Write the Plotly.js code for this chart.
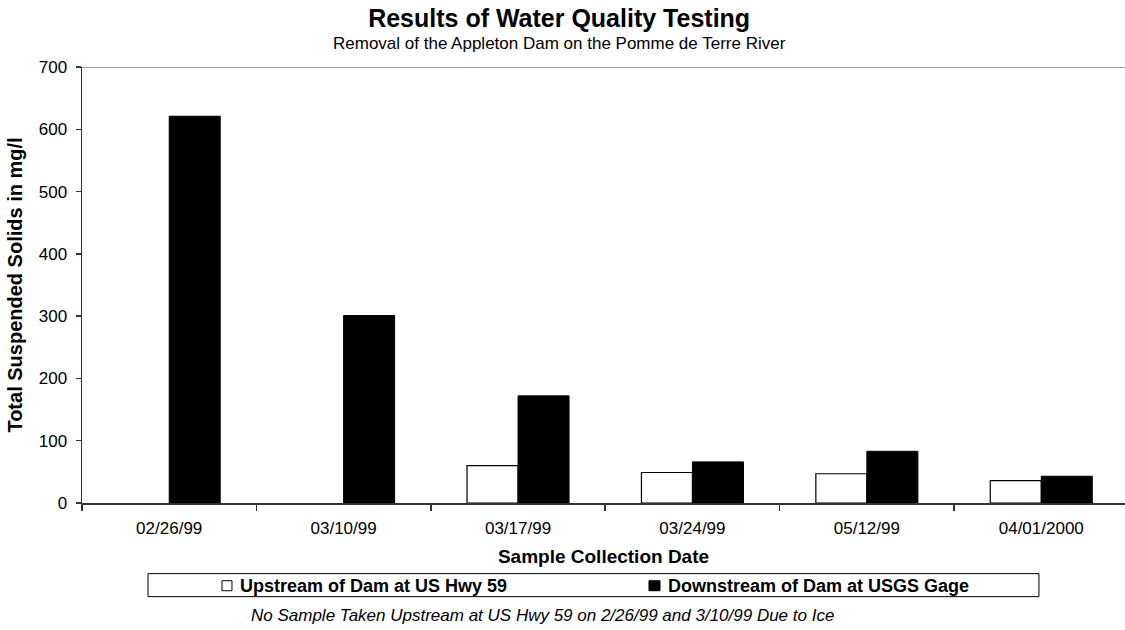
<!DOCTYPE html>
<html>
<head>
<meta charset="utf-8">
<script src="https://cdn.plot.ly/plotly-3.0.1.min.js"></script>
<style>
  html, body { margin: 0; padding: 0; background: #fff; overflow: hidden; }
</style>
</head>
<body>
<div id="tss-chart"></div>
<script>
// sample dates and total suspended solids (mg/l)
var dates = ['02/26/99', '03/10/99', '03/17/99', '03/24/99', '05/12/99', '04/01/2000'];
var upstream = [null, null, 60, 49, 47, 36];
var downstream = [621, 301, 172, 66, 83, 43];
var upstreamName = 'Upstream of Dam at US Hwy 59';
var downstreamName = 'Downstream of Dam at USGS Gage';
var yTicks = [0, 100, 200, 300, 400, 500, 600, 700];

var font = 'Arial, "Liberation Sans", sans-serif';

var data = [
    {
        x: dates, y: upstream, name: upstreamName, type: 'bar',
        marker: { color: '#ffffff', line: { color: '#000000', width: 1.2 } },
        hoverinfo: 'none'
    },
    {
        x: dates, y: downstream, name: downstreamName, type: 'bar',
        marker: { color: '#000000', line: { color: '#000000', width: 1 } },
        hoverinfo: 'none'
    }
];

// boxed legend under the axis title, drawn by hand like the original
var legendY = -0.1895;
var legendBox = { type: 'rect', xref: 'paper', yref: 'paper',
    x0: 0.0633, x1: 0.9175, y0: -0.162, y1: -0.2148,
    line: { color: '#000000', width: 1 }, fillcolor: 'rgba(0,0,0,0)' };
var upSwatch = { type: 'rect', xref: 'paper', yref: 'paper',
    x0: 0.1342, x1: 0.1438, y0: -0.1783, y1: -0.2012,
    line: { color: '#000000', width: 1 }, fillcolor: '#ffffff' };
var downSwatch = { type: 'rect', xref: 'paper', yref: 'paper',
    x0: 0.5436, x1: 0.5542, y0: -0.1783, y1: -0.2012,
    line: { color: '#000000', width: 1 }, fillcolor: '#000000' };

var layout = {
    width: 1125,
    height: 630,
    margin: { l: 82, r: 0, t: 67, b: 127 },
    paper_bgcolor: '#ffffff',
    plot_bgcolor: '#ffffff',
    font: { family: font, color: '#000000', size: 17 },
    title: {
        text: '<b>Results of Water Quality Testing</b>',
        font: { size: 25, color: '#000000' },
        xref: 'container', x: 0.497, xanchor: 'center',
        yref: 'container', y: 0.985, yanchor: 'top'
    },
    barmode: 'group',
    bargap: 0.415,
    bargroupgap: 0,
    showlegend: false,
    xaxis: {
        type: 'category',
        range: [-0.5, 5.48],
        showline: true, linecolor: '#333333', linewidth: 1.5,
        ticks: 'outside', tickson: 'boundaries', ticklen: 6, tickcolor: '#333333', tickwidth: 1.5,
        ticklabelstandoff: 9,
        showgrid: false, zeroline: false,
        tickfont: { size: 17 },
        title: { text: '<b>Sample Collection Date</b>', font: { size: 19 }, standoff: 13 }
    },
    yaxis: {
        range: [0, 700],
        tickvals: yTicks,
        showline: true, linecolor: '#333333', linewidth: 1.5,
        ticks: 'outside', ticklen: 5, tickcolor: '#333333', tickwidth: 1.5,
        ticklabelstandoff: 5,
        showgrid: false, zeroline: false,
        tickfont: { size: 17 },
        title: { text: '<b>Total Suspended Solids in mg/l</b>', font: { size: 20 }, standoff: 10 }
    },
    shapes: [
        // grey top border of the plot area
        { type: 'line', xref: 'paper', x0: 0, x1: 1, yref: 'y', y0: 700, y1: 700,
          line: { color: '#a0a0a0', width: 2 } },
        legendBox, upSwatch, downSwatch
    ],
    annotations: [
        {
            text: 'Removal of the Appleton Dam on the Pomme de Terre River',
            xref: 'paper', x: (559 - 82) / 1043, xanchor: 'center',
            yref: 'paper', y: (503.3 - 43) / 436.3, yanchor: 'middle',
            showarrow: false, font: { size: 17 }
        },
        {
            text: '<b>' + upstreamName + '</b>',
            xref: 'paper', x: 0.1496, xanchor: 'left',
            yref: 'paper', y: legendY, yanchor: 'middle',
            showarrow: false, font: { size: 18 }
        },
        {
            text: '<b>' + downstreamName + '</b>',
            xref: 'paper', x: 0.5599, xanchor: 'left',
            yref: 'paper', y: legendY, yanchor: 'middle',
            showarrow: false, font: { size: 18 }
        },
        {
            text: '<i>No Sample Taken Upstream at US Hwy 59 on 2/26/99 and 3/10/99 Due to Ice</i>',
            xref: 'paper', x: 0.4415, xanchor: 'center',
            yref: 'paper', y: -0.258, yanchor: 'middle',
            showarrow: false, font: { size: 17 }
        }
    ]
};

Plotly.newPlot('tss-chart', data, layout, { displayModeBar: false, staticPlot: true });
</script>
</body>
</html>
